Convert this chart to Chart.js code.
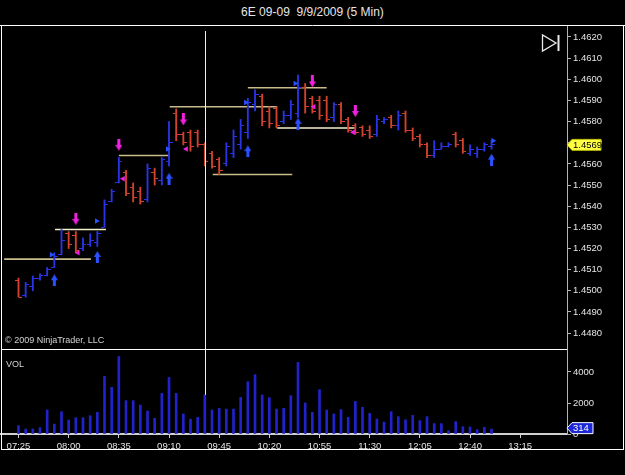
<!DOCTYPE html>
<html>
<head>
<meta charset="utf-8">
<script src="https://cdn.jsdelivr.net/npm/chart.js@4.4.0/dist/chart.umd.min.js"></script>
<style>
  html, body { margin: 0; padding: 0; background: #000; }
  #wrap { position: relative; width: 625px; height: 475px; background: #000; overflow: hidden;
          font-family: "Liberation Sans", Arial, sans-serif; }
  #titre { position: absolute; left: 0; top: 5px; width: 625px; text-align: center; color: #e6e6e6; font-size: 12px; }
  #prix { position: absolute; left: 0; top: 25px; }
  #vol { position: absolute; left: 0; top: 350px; }
  .note { position: absolute; color: #d4d4d4; font-size: 9px; white-space: nowrap; }
</style>
</head>
<body>
<div id="wrap">
  <div id="titre">6E 09-09&nbsp; 9/9/2009 (5 Min)</div>
  <canvas id="prix" width="625" height="325"></canvas>
  <canvas id="vol" width="625" height="125"></canvas>
  <div class="note" style="left:5px; top:335px">© 2009 NinjaTrader, LLC</div>
  <div class="note" style="left:6px; top:359px">VOL</div>
</div>
<script>
// Barres 5 min, 07:25 -> 12:55 (index 0 = 07:25)
const opens = [1.4505, 1.4498, 1.4502, 1.4506, 1.4507, 1.4511, 1.4517, 1.4527, 1.4526, 1.4520,
  1.4522, 1.4523, 1.4530, 1.4542, 1.4551, 1.4556, 1.4549, 1.4547, 1.4543, 1.4556,
  1.4552, 1.4561, 1.4584, 1.4574, 1.4575, 1.4575, 1.4569, 1.4565, 1.4562, 1.4560,
  1.4565, 1.4569, 1.4575, 1.4588, 1.4592, 1.4585, 1.4586, 1.4580, 1.4583, 1.4584,
  1.4596, 1.4591, 1.4590, 1.4590, 1.4582, 1.4588, 1.4581, 1.4578, 1.4577, 1.4576,
  1.4574, 1.4580, 1.4582, 1.4578, 1.4584, 1.4576, 1.4573, 1.4569, 1.4564, 1.4567,
  1.4568, 1.4574, 1.4571, 1.4565, 1.4565, 1.4567, 1.4568];
const highs = [1.4506, 1.4504, 1.4507, 1.4508, 1.4511, 1.4518, 1.4529, 1.4528, 1.4528, 1.4525,
  1.4527, 1.4528, 1.4543, 1.4548, 1.4563, 1.4557, 1.4551, 1.4549, 1.4560, 1.4558,
  1.4563, 1.4580, 1.4586, 1.4575, 1.4576, 1.4576, 1.4570, 1.4566, 1.4563, 1.4570,
  1.4576, 1.4581, 1.4591, 1.4595, 1.4593, 1.4587, 1.4587, 1.4585, 1.4590, 1.4602,
  1.4598, 1.4592, 1.4592, 1.4592, 1.4589, 1.4589, 1.4582, 1.4579, 1.4578, 1.4578,
  1.4583, 1.4582, 1.4583, 1.4585, 1.4585, 1.4577, 1.4574, 1.4570, 1.4571, 1.4570,
  1.4570, 1.4575, 1.4572, 1.4569, 1.4568, 1.4570, 1.4571];
const lows = [1.4497, 1.4497, 1.4500, 1.4505, 1.4507, 1.4511, 1.4517, 1.4520, 1.4518, 1.4519,
  1.4521, 1.4521, 1.4530, 1.4542, 1.4551, 1.4545, 1.4542, 1.4541, 1.4542, 1.4550,
  1.4550, 1.4559, 1.4571, 1.4569, 1.4566, 1.4568, 1.4559, 1.4558, 1.4555, 1.4559,
  1.4563, 1.4567, 1.4572, 1.4585, 1.4578, 1.4577, 1.4577, 1.4579, 1.4581, 1.4582,
  1.4584, 1.4584, 1.4581, 1.4580, 1.4580, 1.4579, 1.4575, 1.4574, 1.4573, 1.4572,
  1.4573, 1.4579, 1.4577, 1.4576, 1.4575, 1.4571, 1.4568, 1.4563, 1.4563, 1.4567,
  1.4568, 1.4568, 1.4565, 1.4564, 1.4563, 1.4566, 1.4567];
const closes = [1.4497, 1.4503, 1.4506, 1.4507, 1.4510, 1.4516, 1.4524, 1.4522, 1.4519, 1.4522,
  1.4524, 1.4527, 1.4541, 1.4547, 1.4561, 1.4546, 1.4544, 1.4542, 1.4558, 1.4553,
  1.4562, 1.4570, 1.4574, 1.4570, 1.4568, 1.4569, 1.4561, 1.4559, 1.4557, 1.4568,
  1.4573, 1.4578, 1.4589, 1.4593, 1.4580, 1.4579, 1.4578, 1.4583, 1.4588, 1.4596,
  1.4587, 1.4585, 1.4583, 1.4581, 1.4588, 1.4580, 1.4576, 1.4575, 1.4574, 1.4573,
  1.4581, 1.4581, 1.4578, 1.4583, 1.4576, 1.4572, 1.4569, 1.4564, 1.4567, 1.4568,
  1.4569, 1.4569, 1.4566, 1.4567, 1.4567, 1.4569, 1.4569];
const volumes = [540, 320, 320, 410, 1550, 640, 1440, 900, 1050, 1050,
  1180, 1400, 3720, 3010, 5000, 2150, 2150, 1870, 1480, 1010,
  2620, 3650, 2620, 1290, 950, 1075, 2520, 1550, 1650, 1610,
  1610, 2360, 3370, 3830, 2520, 2340, 1610, 1650, 2470, 4620,
  2000, 1400, 2860, 1550, 1290, 1570, 1075, 2100, 1720, 1330,
  970, 770, 1440, 1120, 920, 1200, 860, 1120, 670, 670,
  215, 800, 470, 450, 280, 430, 314];

// Axes
const timeIdx = [0, 7, 14, 21, 28, 35, 42, 49, 56, 63, 70];
const timeLabels = ["07:25", "08:00", "08:35", "09:10", "09:45", "10:20", "10:55", "11:30", "12:05", "12:40", "13:15"];
const priceTicks = [1.4480, 1.4490, 1.4500, 1.4510, 1.4520, 1.4530, 1.4540, 1.4550,
  1.4560, 1.4570, 1.4580, 1.4590, 1.4600, 1.4610, 1.4620];
const volTicks = [0, 2000, 4000];

// Signaux
const sellIdx = [8, 14, 23, 41, 47];
const sellPrice = [1.4534, 1.4569, 1.4581, 1.4599, 1.4585];
const buyIdx = [5, 11, 21, 32, 39, 66];
const buyPrice = [1.4505, 1.4516, 1.4553, 1.4566, 1.4579, 1.4562];
const longMarkIdx = [4.6, 10.9, 20.8, 31.7, 38.6, 66.2];
const longMarkPrice = [1.4517, 1.4533, 1.4567, 1.4589, 1.4598, 1.4571];
const shortMarkIdx = [8.3, 14.6, 23.4, 41.2, 46.7];
const shortMarkPrice = [1.4518, 1.4553, 1.4567, 1.4587, 1.4575];

// Niveaux horizontaux
const levelPrice = [1.4515, 1.4529, 1.4564, 1.4587, 1.4555, 1.4596, 1.4577];
const levelFrom = [-2.0, 5.1, 14.0, 21.1, 27.1, 32.0, 36.1];
const levelTo = [10.1, 12.2, 21.1, 36.1, 38.2, 43.0, 46.9];

const cursorIdx = 26;

// Styles
const ROUGE = "#d4412c";
const BLEU = "#2a34e4";
const MAGENTA = "#f020e0";
const BLEU_FLECHE = "#2a50ff";
const TAN = "#c8bc8c";
const CLAIR = "#f4f0c8";
const brightLevels = [1, 6];
const X_MIN = -2.58, X_MAX = 76.53;

Chart.defaults.font.family = "'Liberation Sans', Arial, sans-serif";

function petitCanvas(w, h, dessin) {
  const c = document.createElement("canvas");
  c.width = w; c.height = h;
  dessin(c.getContext("2d"));
  return c;
}
function tick(couleur, cote) {
  return petitCanvas(7, 1, (g) => {
    g.fillStyle = couleur;
    g.fillRect(cote === "g" ? 0 : 4, 0, 3, 1);
  });
}
function fleche(couleur, versBas) {
  return petitCanvas(7, 12, (g) => {
    g.fillStyle = couleur;
    g.beginPath();
    if (versBas) {
      g.rect(2, 0, 3, 6);
      g.moveTo(0, 6); g.lineTo(7, 6); g.lineTo(3.5, 12);
    } else {
      g.rect(2, 6, 3, 6);
      g.moveTo(0, 6); g.lineTo(7, 6); g.lineTo(3.5, 0);
    }
    g.fill();
  });
}
const tickG = { r: tick(ROUGE, "g"), b: tick(BLEU, "g") };
const tickD = { r: tick(ROUGE, "d"), b: tick(BLEU, "d") };
const coul = opens.map((o, i) => (closes[i] >= o ? "b" : "r"));

const datasets = [];
// fleches et marqueurs au-dessus
datasets.push({
  type: "scatter",
  data: sellIdx.map((x, k) => ({ x, y: sellPrice[k] })),
  pointStyle: fleche(MAGENTA, true),
});
datasets.push({
  type: "scatter",
  data: buyIdx.map((x, k) => ({ x, y: buyPrice[k] })),
  pointStyle: fleche(BLEU_FLECHE, false),
});
datasets.push({
  type: "scatter",
  data: longMarkIdx.map((x, k) => ({ x, y: longMarkPrice[k] })),
  pointStyle: "triangle", pointRotation: 90, pointRadius: 3.2,
  backgroundColor: BLEU_FLECHE, borderColor: BLEU_FLECHE, borderWidth: 0,
});
datasets.push({
  type: "scatter",
  data: shortMarkIdx.map((x, k) => ({ x, y: shortMarkPrice[k] })),
  pointStyle: "triangle", pointRotation: -90, pointRadius: 3.2,
  backgroundColor: MAGENTA, borderColor: MAGENTA, borderWidth: 0,
});
// ticks open / close
datasets.push({
  type: "scatter",
  data: opens.map((y, x) => ({ x, y })),
  pointStyle: (ctx) => tickG[coul[ctx.dataIndex]],
});
datasets.push({
  type: "scatter",
  data: closes.map((y, x) => ({ x, y })),
  pointStyle: (ctx) => tickD[coul[ctx.dataIndex]],
});
// barres high-low
datasets.push({
  type: "bar",
  data: highs.map((h, x) => ({ x, y: [lows[x], h] })),
  backgroundColor: coul.map((c) => (c === "b" ? BLEU : ROUGE)),
  barThickness: 1.2,
  grouped: false,
});
// niveaux
levelPrice.forEach((p, k) => {
  const c = brightLevels.includes(k) ? CLAIR : TAN;
  datasets.push({
    type: "line",
    data: [{ x: levelFrom[k], y: p }, { x: levelTo[k], y: p }],
    borderColor: c, borderWidth: 1.6, pointRadius: 0,
  });
});

function etiquette(g, x, y, w, h, fond, bord, texte, coulTexte) {
  g.save();
  g.beginPath();
  g.moveTo(x, y);
  g.lineTo(x + 5, y - h / 2);
  g.lineTo(x + w, y - h / 2);
  g.lineTo(x + w, y + h / 2);
  g.lineTo(x + 5, y + h / 2);
  g.closePath();
  g.fillStyle = fond; g.fill();
  g.strokeStyle = bord; g.lineWidth = 1; g.stroke();
  g.fillStyle = coulTexte;
  g.font = "9.5px 'Liberation Sans', Arial, sans-serif";
  g.textBaseline = "middle";
  g.fillText(texte, x + 6, y + 0.5);
  g.restore();
}

const cadrePrix = {
  id: "cadrePrix",
  afterDraw(chart) {
    const g = chart.ctx;
    const { x, y } = chart.scales;
    g.save();
    g.strokeStyle = "#ffffff";
    g.lineWidth = 1;
    g.beginPath();
    g.moveTo(0, 0.5); g.lineTo(625, 0.5);
    g.moveTo(1.5, 0); g.lineTo(1.5, 325);
    g.moveTo(623.5, 0); g.lineTo(623.5, 325);
    g.moveTo(1, 324.5); g.lineTo(567, 324.5);
    g.stroke();
    // curseur vertical
    const cx = Math.round(x.getPixelForValue(cursorIdx)) + 0.5;
    g.strokeStyle = "#f0f0f0";
    g.beginPath(); g.moveTo(cx, 6); g.lineTo(cx, 325); g.stroke();
    // icone
    g.strokeStyle = "#e8e8e8";
    g.lineWidth = 1.3;
    g.beginPath();
    g.moveTo(542.5, 10); g.lineTo(542.5, 26); g.lineTo(556, 18); g.closePath();
    g.stroke();
    g.fillStyle = "#e8e8e8";
    g.fillRect(557.5, 10, 2, 16);
    g.restore();
    const last = closes[closes.length - 1];
    etiquette(g, 567, y.getPixelForValue(last), 34, 11, "#ffff44", "#b8b800", last.toFixed(4), "#000");
  },
};

new Chart(document.getElementById("prix"), {
  type: "bar",
  data: { datasets },
  options: {
    responsive: false,
    animation: false,
    events: [],
    layout: { padding: 0, autoPadding: false },
    plugins: { legend: { display: false }, tooltip: { enabled: false } },
    scales: {
      x: { type: "linear", display: false, offset: false, min: X_MIN, max: X_MAX },
      y: {
        type: "linear", position: "right",
        min: 1.4620 - 313 / 21150, max: 1.4620 + 12 / 21150,
        afterBuildTicks: (s) => { s.ticks = priceTicks.map((v) => ({ value: v })); },
        afterFit: (s) => { s.width = 58; s.paddingTop = 0; s.paddingBottom = 0; },
        grid: { drawOnChartArea: false, tickLength: 4, color: "#b4b4b4" },
        border: { display: true, color: "#b4b4b4" },
        ticks: { color: "#e4e4e4", padding: 2, font: { size: 9.5 }, callback: (v) => v.toFixed(4) },
      },
    },
  },
  plugins: [cadrePrix],
});

const cadreVol = {
  id: "cadreVol",
  afterDraw(chart) {
    const g = chart.ctx;
    const { x, y } = chart.scales;
    g.save();
    g.strokeStyle = "#ffffff";
    g.lineWidth = 1;
    g.beginPath();
    g.moveTo(1.5, 0); g.lineTo(1.5, 100);
    g.moveTo(623.5, 0); g.lineTo(623.5, 100);
    g.moveTo(1, 99.5); g.lineTo(624, 99.5);
    g.stroke();
    const cx = Math.round(x.getPixelForValue(cursorIdx)) + 0.5;
    g.strokeStyle = "#f0f0f0";
    g.beginPath(); g.moveTo(cx, 0); g.lineTo(cx, y.getPixelForValue(volumes[cursorIdx])); g.stroke();
    g.restore();
    const last = volumes[volumes.length - 1];
    etiquette(g, 567, y.getPixelForValue(last) - 1, 26, 11, "#1c28d8", "#ffffff", String(last), "#ffffff");
  },
};

new Chart(document.getElementById("vol"), {
  type: "bar",
  data: {
    datasets: [{
      data: volumes.map((v, x) => ({ x, y: v })),
      backgroundColor: "#2222cc",
      barThickness: 2,
    }],
  },
  options: {
    responsive: false,
    animation: false,
    events: [],
    layout: { padding: 0, autoPadding: false },
    plugins: { legend: { display: false }, tooltip: { enabled: false } },
    scales: {
      x: {
        type: "linear", offset: false, min: X_MIN, max: X_MAX,
        afterBuildTicks: (s) => { s.ticks = timeIdx.map((v) => ({ value: v })); },
        afterFit: (s) => { s.height = 41; s.paddingLeft = 0; s.paddingRight = 0; },
        grid: { drawOnChartArea: false, offset: false, tickLength: 4, color: "#d0d0d0" },
        border: { display: true, color: "#d0d0d0", width: 2 },
        ticks: { color: "#e4e4e4", padding: 3, maxRotation: 0, autoSkip: false, font: { size: 9.5 },
                 callback: (v, i) => timeLabels[i] },
      },
      y: {
        type: "linear", position: "right", min: 0, max: 84 / 31 * 2000,
        afterBuildTicks: (s) => { s.ticks = volTicks.map((v) => ({ value: v })); },
        afterFit: (s) => { s.width = 58; s.paddingTop = 0; s.paddingBottom = 0; },
        grid: { drawOnChartArea: false, tickLength: 4, color: "#b4b4b4" },
        border: { display: true, color: "#b4b4b4" },
        ticks: { color: "#e4e4e4", padding: 2, font: { size: 9.5 }, callback: (v) => String(v) },
      },
    },
  },
  plugins: [cadreVol],
});
</script>
</body>
</html>
